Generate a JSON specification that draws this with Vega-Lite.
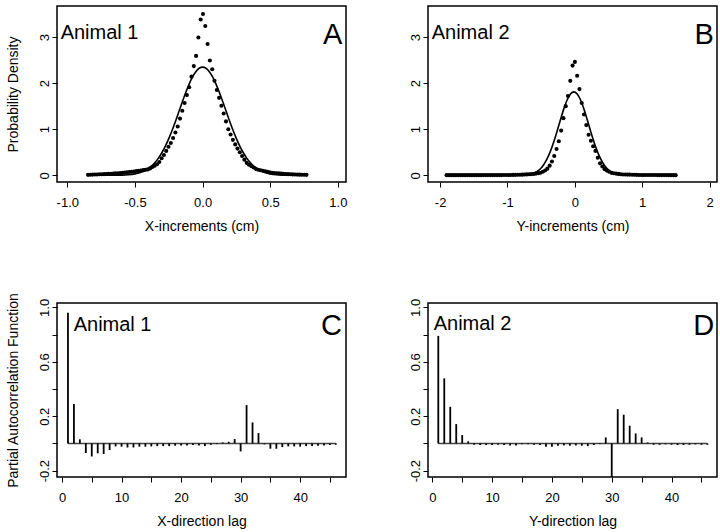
{
  "$schema": "https://vega.github.io/schema/vega-lite/v6.json",
  "background": "white",
  "padding": {"left": 5, "top": 5, "right": 0, "bottom": 0},
  "bounds": "flush",
  "columns": 2,
  "spacing": {"row": 121, "column": 82},
  "config": {
    "font": "Liberation Sans",
    "view": {"stroke": "black", "strokeWidth": 1.5},
    "axis": {"domain": false, "grid": false, "ticks": true, "tickColor": "black", "tickWidth": 1, "tickSize": 5,
      "labelFont": "Liberation Sans", "labelFontSize": 13, "labelColor": "black", "labelFlush": false, "labelOverlap": false,
      "titleFont": "Liberation Sans", "titleFontSize": 14, "titleFontWeight": "normal", "titleColor": "black"},
    "axisX": {"labelPadding": 9, "titlePadding": 10},
    "axisY": {"labelAngle": 270, "labelAlign": "center", "labelBaseline": "alphabetic", "labelPadding": 4, "titlePadding": 18}
  },
  "datasets": {
    "densA": [
      {"x": -0.847, "d": 0.010}, {"x": -0.830, "d": 0.013}, {"x": -0.813, "d": 0.015}, {"x": -0.796, "d": 0.017}, {"x": -0.779, "d": 0.019},
      {"x": -0.762, "d": 0.022}, {"x": -0.745, "d": 0.024}, {"x": -0.728, "d": 0.026}, {"x": -0.711, "d": 0.028}, {"x": -0.694, "d": 0.031},
      {"x": -0.677, "d": 0.035}, {"x": -0.660, "d": 0.038}, {"x": -0.643, "d": 0.041}, {"x": -0.626, "d": 0.045}, {"x": -0.609, "d": 0.048},
      {"x": -0.592, "d": 0.053}, {"x": -0.575, "d": 0.059}, {"x": -0.558, "d": 0.065}, {"x": -0.541, "d": 0.071}, {"x": -0.524, "d": 0.077},
      {"x": -0.507, "d": 0.083}, {"x": -0.490, "d": 0.090}, {"x": -0.473, "d": 0.097}, {"x": -0.456, "d": 0.105}, {"x": -0.439, "d": 0.112},
      {"x": -0.422, "d": 0.120}, {"x": -0.405, "d": 0.128}, {"x": -0.388, "d": 0.150}, {"x": -0.371, "d": 0.180}, {"x": -0.354, "d": 0.210},
      {"x": -0.337, "d": 0.240}, {"x": -0.320, "d": 0.290}, {"x": -0.303, "d": 0.370}, {"x": -0.286, "d": 0.440}, {"x": -0.269, "d": 0.530},
      {"x": -0.252, "d": 0.620}, {"x": -0.235, "d": 0.700}, {"x": -0.218, "d": 0.810}, {"x": -0.201, "d": 0.930}, {"x": -0.184, "d": 1.060},
      {"x": -0.167, "d": 1.230}, {"x": -0.150, "d": 1.400}, {"x": -0.133, "d": 1.570}, {"x": -0.116, "d": 1.740}, {"x": -0.099, "d": 1.910},
      {"x": -0.082, "d": 2.140}, {"x": -0.065, "d": 2.370}, {"x": -0.048, "d": 2.590}, {"x": -0.031, "d": 2.990}, {"x": -0.014, "d": 3.380},
      {"x": 0.003, "d": 3.500},
      {"x": 0.020, "d": 3.240}, {"x": 0.037, "d": 2.850}, {"x": 0.054, "d": 2.490}, {"x": 0.071, "d": 2.300}, {"x": 0.088, "d": 2.050},
      {"x": 0.105, "d": 1.850}, {"x": 0.122, "d": 1.680}, {"x": 0.139, "d": 1.510}, {"x": 0.156, "d": 1.340}, {"x": 0.173, "d": 1.170},
      {"x": 0.190, "d": 1.000}, {"x": 0.207, "d": 0.885}, {"x": 0.224, "d": 0.770}, {"x": 0.241, "d": 0.670}, {"x": 0.258, "d": 0.580},
      {"x": 0.275, "d": 0.500}, {"x": 0.292, "d": 0.420}, {"x": 0.309, "d": 0.340}, {"x": 0.326, "d": 0.270}, {"x": 0.343, "d": 0.230},
      {"x": 0.360, "d": 0.200}, {"x": 0.377, "d": 0.170}, {"x": 0.394, "d": 0.140}, {"x": 0.411, "d": 0.122}, {"x": 0.428, "d": 0.110},
      {"x": 0.445, "d": 0.098}, {"x": 0.462, "d": 0.087}, {"x": 0.479, "d": 0.075}, {"x": 0.496, "d": 0.063}, {"x": 0.513, "d": 0.056},
      {"x": 0.530, "d": 0.051}, {"x": 0.547, "d": 0.046}, {"x": 0.564, "d": 0.041}, {"x": 0.581, "d": 0.036}, {"x": 0.598, "d": 0.031},
      {"x": 0.615, "d": 0.028}, {"x": 0.632, "d": 0.025}, {"x": 0.649, "d": 0.023}, {"x": 0.666, "d": 0.020}, {"x": 0.683, "d": 0.018},
      {"x": 0.700, "d": 0.015}, {"x": 0.717, "d": 0.014}, {"x": 0.734, "d": 0.013}, {"x": 0.751, "d": 0.011}, {"x": 0.768, "d": 0.010}
    ],
    "curveA": [
      {"x": -0.85, "d": 0.0}, {"x": -0.75, "d": 0.0001}, {"x": -0.7, "d": 0.0009}, {"x": -0.65, "d": 0.0016}, {"x": -0.6, "d": 0.0046},
      {"x": -0.55, "d": 0.0125}, {"x": -0.5, "d": 0.031}, {"x": -0.45, "d": 0.0706}, {"x": -0.4, "d": 0.147}, {"x": -0.375, "d": 0.206},
      {"x": -0.35, "d": 0.282}, {"x": -0.325, "d": 0.378}, {"x": -0.3, "d": 0.495}, {"x": -0.275, "d": 0.634}, {"x": -0.25, "d": 0.796},
      {"x": -0.225, "d": 0.978}, {"x": -0.2, "d": 1.175}, {"x": -0.175, "d": 1.382}, {"x": -0.15, "d": 1.59}, {"x": -0.125, "d": 1.791},
      {"x": -0.1, "d": 1.974}, {"x": -0.075, "d": 2.129}, {"x": -0.05, "d": 2.248}, {"x": -0.025, "d": 2.322}, {"x": 0.0, "d": 2.347},
      {"x": 0.025, "d": 2.322}, {"x": 0.05, "d": 2.248}, {"x": 0.075, "d": 2.129}, {"x": 0.1, "d": 1.974}, {"x": 0.125, "d": 1.791},
      {"x": 0.15, "d": 1.59}, {"x": 0.175, "d": 1.382}, {"x": 0.2, "d": 1.175}, {"x": 0.225, "d": 0.978}, {"x": 0.25, "d": 0.796},
      {"x": 0.275, "d": 0.634}, {"x": 0.3, "d": 0.495}, {"x": 0.325, "d": 0.378}, {"x": 0.35, "d": 0.282}, {"x": 0.375, "d": 0.206},
      {"x": 0.4, "d": 0.147}, {"x": 0.45, "d": 0.0706}, {"x": 0.5, "d": 0.031}, {"x": 0.55, "d": 0.0125}, {"x": 0.6, "d": 0.0046},
      {"x": 0.65, "d": 0.0016}, {"x": 0.7, "d": 0.0009}, {"x": 0.77, "d": 0.0001}
    ],
    "densB": [
      {"x": -1.904, "d": 0.003}, {"x": -1.870, "d": 0.003}, {"x": -1.836, "d": 0.003}, {"x": -1.802, "d": 0.003}, {"x": -1.768, "d": 0.003},
      {"x": -1.734, "d": 0.003}, {"x": -1.700, "d": 0.004}, {"x": -1.666, "d": 0.004}, {"x": -1.632, "d": 0.004}, {"x": -1.598, "d": 0.004},
      {"x": -1.564, "d": 0.004}, {"x": -1.530, "d": 0.004}, {"x": -1.496, "d": 0.004}, {"x": -1.462, "d": 0.004}, {"x": -1.428, "d": 0.004},
      {"x": -1.394, "d": 0.004}, {"x": -1.360, "d": 0.005}, {"x": -1.326, "d": 0.005}, {"x": -1.292, "d": 0.005}, {"x": -1.258, "d": 0.005},
      {"x": -1.224, "d": 0.005}, {"x": -1.190, "d": 0.005}, {"x": -1.156, "d": 0.005}, {"x": -1.122, "d": 0.005}, {"x": -1.088, "d": 0.005},
      {"x": -1.054, "d": 0.006}, {"x": -1.020, "d": 0.006}, {"x": -0.986, "d": 0.007}, {"x": -0.952, "d": 0.008}, {"x": -0.918, "d": 0.009},
      {"x": -0.884, "d": 0.010}, {"x": -0.850, "d": 0.011}, {"x": -0.816, "d": 0.012}, {"x": -0.782, "d": 0.014}, {"x": -0.748, "d": 0.017},
      {"x": -0.714, "d": 0.020}, {"x": -0.680, "d": 0.023}, {"x": -0.646, "d": 0.026}, {"x": -0.612, "d": 0.029}, {"x": -0.578, "d": 0.037},
      {"x": -0.544, "d": 0.047}, {"x": -0.510, "d": 0.057}, {"x": -0.476, "d": 0.078}, {"x": -0.442, "d": 0.104}, {"x": -0.408, "d": 0.144},
      {"x": -0.374, "d": 0.210}, {"x": -0.340, "d": 0.300}, {"x": -0.306, "d": 0.420}, {"x": -0.272, "d": 0.570}, {"x": -0.238, "d": 0.740},
      {"x": -0.204, "d": 0.970}, {"x": -0.170, "d": 1.240}, {"x": -0.136, "d": 1.500}, {"x": -0.102, "d": 1.720}, {"x": -0.068, "d": 2.050},
      {"x": -0.034, "d": 2.380}, {"x": 0.000, "d": 2.460},
      {"x": 0.034, "d": 2.160}, {"x": 0.068, "d": 1.870}, {"x": 0.102, "d": 1.570}, {"x": 0.136, "d": 1.320}, {"x": 0.170, "d": 1.090},
      {"x": 0.204, "d": 0.880}, {"x": 0.238, "d": 0.750}, {"x": 0.272, "d": 0.630}, {"x": 0.306, "d": 0.530}, {"x": 0.340, "d": 0.380},
      {"x": 0.374, "d": 0.260}, {"x": 0.408, "d": 0.190}, {"x": 0.442, "d": 0.134}, {"x": 0.476, "d": 0.102}, {"x": 0.510, "d": 0.078},
      {"x": 0.544, "d": 0.054}, {"x": 0.578, "d": 0.044}, {"x": 0.612, "d": 0.038}, {"x": 0.646, "d": 0.031}, {"x": 0.680, "d": 0.024},
      {"x": 0.714, "d": 0.019}, {"x": 0.748, "d": 0.018}, {"x": 0.782, "d": 0.016}, {"x": 0.816, "d": 0.015}, {"x": 0.850, "d": 0.013},
      {"x": 0.884, "d": 0.011}, {"x": 0.918, "d": 0.010}, {"x": 0.952, "d": 0.008}, {"x": 0.986, "d": 0.007}, {"x": 1.020, "d": 0.006},
      {"x": 1.054, "d": 0.006}, {"x": 1.088, "d": 0.006}, {"x": 1.122, "d": 0.006}, {"x": 1.156, "d": 0.006}, {"x": 1.190, "d": 0.006},
      {"x": 1.224, "d": 0.005}, {"x": 1.258, "d": 0.005}, {"x": 1.292, "d": 0.005}, {"x": 1.326, "d": 0.005}, {"x": 1.360, "d": 0.005},
      {"x": 1.394, "d": 0.004}, {"x": 1.428, "d": 0.004}, {"x": 1.462, "d": 0.004}, {"x": 1.496, "d": 0.004}
    ],
    "curveB": [
      {"x": -1.9, "d": 0.0}, {"x": -1.2, "d": 0.0}, {"x": -1.0, "d": 0.0001}, {"x": -0.815, "d": 0.0025}, {"x": -0.715, "d": 0.0117},
      {"x": -0.615, "d": 0.0445}, {"x": -0.565, "d": 0.0804}, {"x": -0.515, "d": 0.138}, {"x": -0.465, "d": 0.225}, {"x": -0.415, "d": 0.349},
      {"x": -0.365, "d": 0.513}, {"x": -0.315, "d": 0.717}, {"x": -0.265, "d": 0.951}, {"x": -0.215, "d": 1.199}, {"x": -0.165, "d": 1.436},
      {"x": -0.115, "d": 1.633}, {"x": -0.065, "d": 1.764}, {"x": -0.015, "d": 1.81}, {"x": 0.035, "d": 1.764}, {"x": 0.085, "d": 1.633},
      {"x": 0.135, "d": 1.436}, {"x": 0.185, "d": 1.199}, {"x": 0.235, "d": 0.951}, {"x": 0.285, "d": 0.717}, {"x": 0.335, "d": 0.513},
      {"x": 0.385, "d": 0.349}, {"x": 0.435, "d": 0.225}, {"x": 0.485, "d": 0.138}, {"x": 0.535, "d": 0.0804}, {"x": 0.585, "d": 0.0445},
      {"x": 0.685, "d": 0.0117}, {"x": 0.785, "d": 0.0025}, {"x": 1.0, "d": 0.0}, {"x": 1.5, "d": 0.0}
    ],
    "pacfC": [
      {"lag": 1, "v": 0.96}, {"lag": 2, "v": 0.29}, {"lag": 3, "v": 0.03}, {"lag": 4, "v": -0.071}, {"lag": 5, "v": -0.096},
      {"lag": 6, "v": -0.073}, {"lag": 7, "v": -0.078}, {"lag": 8, "v": -0.049}, {"lag": 9, "v": -0.022}, {"lag": 10, "v": -0.024},
      {"lag": 11, "v": -0.03}, {"lag": 12, "v": -0.03}, {"lag": 13, "v": -0.024}, {"lag": 14, "v": -0.024}, {"lag": 15, "v": -0.022},
      {"lag": 16, "v": -0.02}, {"lag": 17, "v": -0.02}, {"lag": 18, "v": -0.02}, {"lag": 19, "v": -0.017}, {"lag": 20, "v": -0.015},
      {"lag": 21, "v": -0.015}, {"lag": 22, "v": -0.012}, {"lag": 23, "v": -0.015}, {"lag": 24, "v": -0.02}, {"lag": 25, "v": -0.01},
      {"lag": 26, "v": -0.005}, {"lag": 27, "v": 0.007}, {"lag": 28, "v": 0.012}, {"lag": 29, "v": 0.032}, {"lag": 30, "v": -0.059},
      {"lag": 31, "v": 0.282}, {"lag": 32, "v": 0.154}, {"lag": 33, "v": 0.076}, {"lag": 34, "v": -0.007}, {"lag": 35, "v": -0.039},
      {"lag": 36, "v": -0.039}, {"lag": 37, "v": -0.027}, {"lag": 38, "v": -0.022}, {"lag": 39, "v": -0.022}, {"lag": 40, "v": -0.024},
      {"lag": 41, "v": -0.02}, {"lag": 42, "v": -0.02}, {"lag": 43, "v": -0.017}, {"lag": 44, "v": -0.015}, {"lag": 45, "v": -0.012},
      {"lag": 46, "v": -0.01}
    ],
    "pacfD": [
      {"lag": 1, "v": 0.79}, {"lag": 2, "v": 0.478}, {"lag": 3, "v": 0.269}, {"lag": 4, "v": 0.142}, {"lag": 5, "v": 0.061},
      {"lag": 6, "v": 0.015}, {"lag": 7, "v": -0.01}, {"lag": 8, "v": -0.012}, {"lag": 9, "v": -0.012}, {"lag": 10, "v": -0.012},
      {"lag": 11, "v": -0.01}, {"lag": 12, "v": -0.012}, {"lag": 13, "v": -0.015}, {"lag": 14, "v": -0.015}, {"lag": 15, "v": -0.007},
      {"lag": 16, "v": -0.007}, {"lag": 17, "v": -0.01}, {"lag": 18, "v": -0.012}, {"lag": 19, "v": -0.024}, {"lag": 20, "v": -0.024},
      {"lag": 21, "v": -0.017}, {"lag": 22, "v": -0.015}, {"lag": 23, "v": -0.017}, {"lag": 24, "v": -0.015}, {"lag": 25, "v": -0.017},
      {"lag": 26, "v": -0.02}, {"lag": 27, "v": -0.012}, {"lag": 28, "v": -0.005}, {"lag": 29, "v": 0.044}, {"lag": 30, "v": -0.3},
      {"lag": 31, "v": 0.252}, {"lag": 32, "v": 0.211}, {"lag": 33, "v": 0.13}, {"lag": 34, "v": 0.073}, {"lag": 35, "v": 0.044},
      {"lag": 36, "v": 0.007}, {"lag": 37, "v": -0.01}, {"lag": 38, "v": -0.01}, {"lag": 39, "v": -0.007}, {"lag": 40, "v": -0.01},
      {"lag": 41, "v": -0.012}, {"lag": 42, "v": -0.012}, {"lag": 43, "v": -0.01}, {"lag": 44, "v": -0.007}, {"lag": 45, "v": -0.01},
      {"lag": 46, "v": -0.01}
    ],
    "notesA": [{"x": -1.049, "d": 2.95, "t": "Animal 1"}],
    "letterA": [{"x": 1.033, "d": 2.84, "t": "A"}],
    "notesB": [{"x": -2.125, "d": 2.96, "t": "Animal 2"}],
    "letterB": [{"x": 2.064, "d": 2.84, "t": "B"}],
    "notesC": [{"lag": 1.96, "v": 0.829, "t": "Animal 1"}],
    "letterC": [{"lag": 47.0, "v": 0.80, "t": "C"}],
    "notesD": [{"lag": 0.23, "v": 0.836, "t": "Animal 2"}],
    "letterD": [{"lag": 47.15, "v": 0.80, "t": "D"}],
    "baseC": [{"lag": 1, "lag2": 46, "v": 0}],
    "baseD": [{"lag": 1, "lag2": 46, "v": 0}]
  },
  "concat": [
    {
      "width": 289, "height": 176,
      "encoding": {
        "x": {"field": "x", "type": "quantitative", "scale": {"domain": [-1.076, 1.06], "nice": false, "zero": false},
          "axis": {"title": "X-increments (cm)", "values": [-1, -0.5, 0, 0.5, 1],
            "labelExpr": "datum.value < 0 ? '-' + format(abs(datum.value), '.1f') : format(datum.value, '.1f')"}},
        "y": {"field": "d", "type": "quantitative", "scale": {"domain": [-0.145, 3.673], "nice": false, "zero": false},
          "axis": {"title": "Probability Density", "values": [0, 1, 2, 3], "format": "d"}}
      },
      "layer": [
        {"data": {"name": "curveA"}, "mark": {"type": "line", "color": "black", "strokeWidth": 1.6, "interpolate": "monotone"}},
        {"data": {"name": "densA"}, "mark": {"type": "circle", "size": 17, "color": "black", "opacity": 1}},
        {"data": {"name": "notesA"}, "mark": {"type": "text", "align": "left", "baseline": "alphabetic", "fontSize": 20, "color": "black"},
          "encoding": {"text": {"field": "t"}}},
        {"data": {"name": "letterA"}, "mark": {"type": "text", "align": "right", "baseline": "alphabetic", "fontSize": 29, "color": "black"},
          "encoding": {"text": {"field": "t"}}}
      ]
    },
    {
      "width": 289, "height": 176,
      "encoding": {
        "x": {"field": "x", "type": "quantitative", "scale": {"domain": [-2.18, 2.11], "nice": false, "zero": false},
          "axis": {"title": "Y-increments (cm)", "values": [-2, -1, 0, 1, 2],
            "labelExpr": "datum.value < 0 ? '-' + format(abs(datum.value), 'd') : format(datum.value, 'd')"}},
        "y": {"field": "d", "type": "quantitative", "scale": {"domain": [-0.145, 3.673], "nice": false, "zero": false},
          "axis": {"title": null, "values": [0, 1, 2, 3], "format": "d"}}
      },
      "layer": [
        {"data": {"name": "curveB"}, "mark": {"type": "line", "color": "black", "strokeWidth": 1.6, "interpolate": "monotone"}},
        {"data": {"name": "densB"}, "mark": {"type": "circle", "size": 17, "color": "black", "opacity": 1}},
        {"data": {"name": "notesB"}, "mark": {"type": "text", "align": "left", "baseline": "alphabetic", "fontSize": 20, "color": "black"},
          "encoding": {"text": {"field": "t"}}},
        {"data": {"name": "letterB"}, "mark": {"type": "text", "align": "right", "baseline": "alphabetic", "fontSize": 29, "color": "black"},
          "encoding": {"text": {"field": "t"}}}
      ]
    },
    {
      "width": 289, "height": 174,
      "encoding": {
        "x": {"field": "lag", "type": "quantitative", "scale": {"domain": [-0.84, 47.7], "nice": false, "zero": false},
          "axis": {"title": "X-direction lag", "values": [0, 5, 10, 15, 20, 25, 30, 35, 40, 45],
            "labelExpr": "datum.value % 10 == 0 ? datum.label : ''"}},
        "y": {"field": "v", "type": "quantitative", "scale": {"domain": [-0.247, 1.032], "nice": false, "zero": false},
          "axis": {"title": "Partial Autocorrelation Function", "values": [-0.2, 0, 0.2, 0.4, 0.6, 0.8, 1],
            "labelExpr": "datum.value == 1 ? '1.0' : datum.value == 0.6 ? '0.6' : datum.value == 0.2 ? '0.2' : datum.value == -0.2 ? '-0.2' : ''"}}
      },
      "layer": [
        {"data": {"name": "baseC"}, "mark": {"type": "rule", "color": "#444444", "strokeWidth": 1.5},
          "encoding": {"x2": {"field": "lag2"}}},
        {"data": {"name": "pacfC"}, "mark": {"type": "rule", "color": "black", "strokeWidth": 1.8, "clip": true},
          "encoding": {"y2": {"datum": 0}}},
        {"data": {"name": "notesC"}, "mark": {"type": "text", "align": "left", "baseline": "alphabetic", "fontSize": 20, "color": "black"},
          "encoding": {"text": {"field": "t"}}},
        {"data": {"name": "letterC"}, "mark": {"type": "text", "align": "right", "baseline": "alphabetic", "fontSize": 29, "color": "black"},
          "encoding": {"text": {"field": "t"}}}
      ]
    },
    {
      "width": 289, "height": 174,
      "encoding": {
        "x": {"field": "lag", "type": "quantitative", "scale": {"domain": [-0.72, 47.6], "nice": false, "zero": false},
          "axis": {"title": "Y-direction lag", "values": [0, 5, 10, 15, 20, 25, 30, 35, 40, 45],
            "labelExpr": "datum.value % 10 == 0 ? datum.label : ''"}},
        "y": {"field": "v", "type": "quantitative", "scale": {"domain": [-0.247, 1.032], "nice": false, "zero": false},
          "axis": {"title": null, "values": [-0.2, 0, 0.2, 0.4, 0.6, 0.8, 1],
            "labelExpr": "datum.value == 1 ? '1.0' : datum.value == 0.6 ? '0.6' : datum.value == 0.2 ? '0.2' : datum.value == -0.2 ? '-0.2' : ''"}}
      },
      "layer": [
        {"data": {"name": "baseD"}, "mark": {"type": "rule", "color": "#444444", "strokeWidth": 1.5},
          "encoding": {"x2": {"field": "lag2"}}},
        {"data": {"name": "pacfD"}, "mark": {"type": "rule", "color": "black", "strokeWidth": 1.8, "clip": true},
          "encoding": {"y2": {"datum": 0}}},
        {"data": {"name": "notesD"}, "mark": {"type": "text", "align": "left", "baseline": "alphabetic", "fontSize": 20, "color": "black"},
          "encoding": {"text": {"field": "t"}}},
        {"data": {"name": "letterD"}, "mark": {"type": "text", "align": "right", "baseline": "alphabetic", "fontSize": 29, "color": "black"},
          "encoding": {"text": {"field": "t"}}}
      ]
    }
  ]
}
